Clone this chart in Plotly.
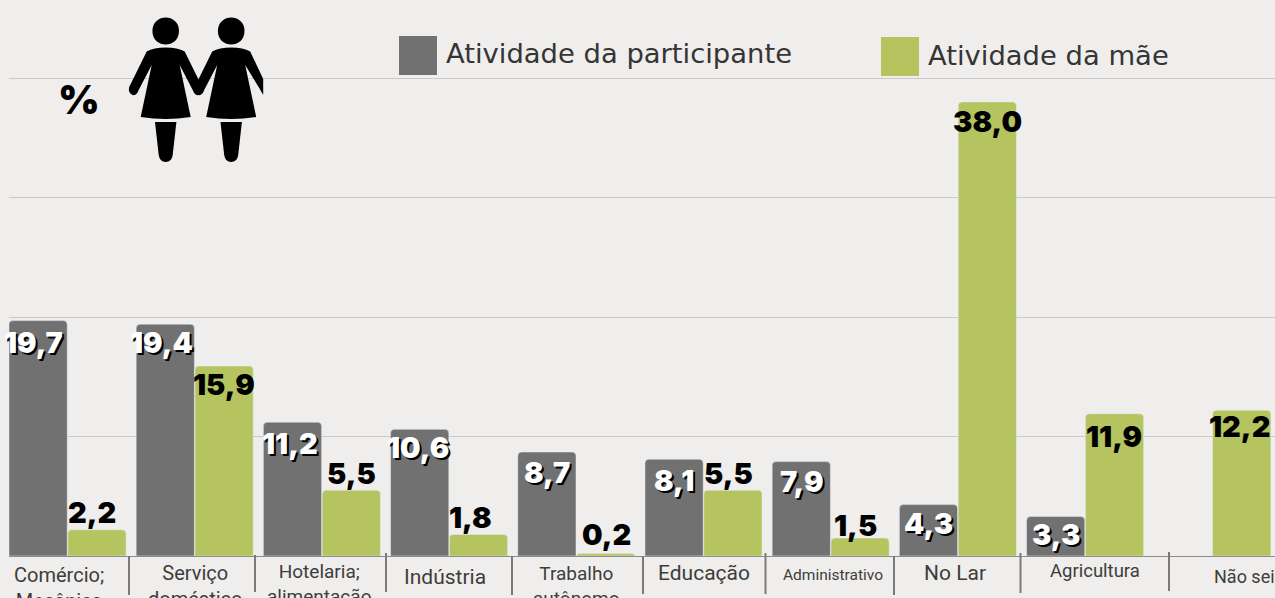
import plotly.graph_objects as go

categories = ["Comércio; Mecânica", "Serviço doméstico", "Hotelaria; alimentação", "Indústria",
              "Trabalho autônomo", "Educação", "Administrativo", "No Lar", "Agricultura", "Não sei"]
tick_labels = ["Comércio;<br>Mecânica", "Serviço<br>doméstico", "Hotelaria;<br>alimentação", "Indústria",
               "Trabalho<br>autônomo", "Educação", "Administrativo", "No Lar", "Agricultura", "Não sei"]
participante = [19.7, 19.4, 11.2, 10.6, 8.7, 8.1, 7.9, 4.3, 3.3, None]
mae = [2.2, 15.9, 5.5, 1.8, 0.2, 5.5, 1.5, 38.0, 11.9, 12.2]

tick_dx = [-8.5, 0, -3, -4, 0, 0, 2, -3, 10, 32]
tick_top = [561, 559, 558, 563, 560, 559, 564, 559, 558, 564]
tick_size = [20, 20, 19, 21, 19, 21, 15.5, 21, 18.5, 18]
label_dx_p = [-5, -4, -3, -2, 0, 0, 0, 0, 0, 0]
label_dx_m = [-5, 0, 0, -8, 1, -4, -4, 0, 0, -2]
label_dy_p = [-22, -18, -21, -18, -20, -21, -20, -19, -18, 0]
label_dy_m = [17, -19, 17, 17, 19, 17, 13, -20, -23, -16]
separators = [(129, 556, 595), (255, 555, 592), (386, 553, 592), (512, 556, 595), (643, 556, 594),
              (765.5, 553, 594), (894, 556, 595), (1020.5, 553, 593), (1169, 552, 591)]

W, H = 1275, 598
ML, MR, MT, MB = 9, 0, 76, 42
GREY, GREEN, BG = "#717171", "#b5c45f", "#efeeec"
TICKFONT = "Liberation Sans Narrow, Roboto, sans-serif"
LABELFONT = "Inter, DejaVu Sans, sans-serif"
BAR_OFFSET = 29.2


def px(x):
    return (x - ML) / (W - ML - MR)


def py(y):
    return 1 - (y - MT) / (H - MT - MB)


def fmt(v):
    return f"{v:.1f}".replace(".", ",")


fig = go.Figure()
fig.add_bar(x=categories, y=participante, name="Atividade da participante",
            marker=dict(color=GREY), showlegend=False)
fig.add_bar(x=categories, y=mae, name="Atividade da mãe",
            marker=dict(color=GREEN), showlegend=False)

shapes = []
for x, y0, y1 in separators:
    shapes.append(dict(type="line", xref="paper", yref="paper", x0=px(x), x1=px(x), y0=py(y0), y1=py(y1),
                       line=dict(color="#7a7a7a", width=2)))
for (x0, y0, x1, y1, col) in [(399, 36, 437, 75, GREY), (881, 37, 919, 76, GREEN)]:
    shapes.append(dict(type="rect", xref="paper", yref="paper", x0=px(x0), x1=px(x1), y0=py(y0), y1=py(y1),
                       fillcolor=col, line=dict(width=0)))


def P(cmds):
    out = []
    for c in cmds:
        if isinstance(c, str):
            out.append(c)
        else:
            out.append(f"{px(c[0]):.5f},{py(c[1]):.5f}")
    return " ".join(out)


def woman(cx, clip=False):
    right_arm = (["L", (cx + 32, 79), "L", (cx + 32, 95), "L", (cx + 28, 88)] if clip else
                 ["L", (cx + 36.5, 87), "Q", (cx + 38, 93), (cx + 33, 95), "Q", (cx + 29, 96), (cx + 27, 90)])
    body = ["M", (cx, 47.5), "Q", (cx + 12, 47.5), (cx + 19, 51.5)] + right_arm + [
        "L", (cx + 14, 65), "L", (cx + 25, 117), "Q", (cx, 121), (cx - 25, 117), "L", (cx - 14, 65),
        "L", (cx - 27, 90), "Q", (cx - 29, 96), (cx - 33, 95), "Q", (cx - 38, 93), (cx - 36.5, 87),
        "L", (cx - 19, 51.5), "Q", (cx - 12, 47.5), (cx, 47.5), "Z"]
    legs = ["M", (cx - 10.7, 122), "L", (cx + 10.7, 122), "L", (cx + 7, 155),
            "Q", (cx + 6, 162), (cx, 162), "Q", (cx - 6, 162), (cx - 7, 155), "Z"]
    head = ["M", (cx - 13.3, 31), "C", (cx - 13.3, 13), (cx + 13.3, 13), (cx + 13.3, 31),
            "C", (cx + 13.3, 49), (cx - 13.3, 49), (cx - 13.3, 31), "Z"]
    return [P(body), P(legs), P(head)]


for cx, clip in [(165.7, False), (231.2, True)]:
    for d in woman(cx, clip):
        shapes.append(dict(type="path", xref="paper", yref="paper", path=d, fillcolor="black", line=dict(width=0)))

ann = []
for i, t in enumerate(tick_labels):
    ann.append(dict(x=i, xref="x", y=py(tick_top[i]), yref="paper", yanchor="top", xanchor="center",
                    xshift=tick_dx[i], text=t, showarrow=False, align="center",
                    font=dict(family=TICKFONT, size=tick_size[i], color="#3d3d3d")))

for i, v in enumerate(participante):
    if v is not None:
        ann.append(dict(x=i, y=v, xref="x", yref="y", text=fmt(v), showarrow=False, xanchor="center",
                        yanchor="middle", xshift=-BAR_OFFSET + label_dx_p[i], yshift=label_dy_p[i],
                        font=dict(family=LABELFONT, size=29, color="white", weight=900,
                                  shadow="2px 2px 0.5px #000")))
for i, v in enumerate(mae):
    ann.append(dict(x=i, y=v, xref="x", yref="y", text=fmt(v), showarrow=False, xanchor="center",
                    yanchor="middle", xshift=BAR_OFFSET + label_dx_m[i], yshift=label_dy_m[i],
                    font=dict(family=LABELFONT, size=29, color="black", weight=900)))

ann.append(dict(x=px(444), xref="paper", y=py(54), yref="paper", xanchor="left", yanchor="middle",
                text="Atividade da participante", showarrow=False,
                font=dict(family="DejaVu Sans, sans-serif", size=27.4, color="#353535")))
ann.append(dict(x=px(926), xref="paper", y=py(55), yref="paper", xanchor="left", yanchor="middle",
                text="Atividade da mãe", showarrow=False,
                font=dict(family="DejaVu Sans, sans-serif", size=27.4, color="#353535")))
ann.append(dict(x=px(79), xref="paper", y=py(99), yref="paper", xanchor="center", yanchor="middle",
                text="%", showarrow=False, font=dict(family="Inter, sans-serif", size=40, color="black", weight=900)))

fig.update_layout(
    width=W, height=H, margin=dict(l=ML, r=MR, t=MT, b=MB, autoexpand=False),
    paper_bgcolor=BG, plot_bgcolor=BG, barmode="group", bargap=0.075, bargroupgap=0.01,
    barcornerradius=4, shapes=shapes, annotations=ann, showlegend=False,
    xaxis=dict(type="category", range=[-0.46, 9.493], showticklabels=False, ticks="", showgrid=False,
               zeroline=False, showline=False),
    yaxis=dict(range=[0, 40.167], tickvals=[0, 10, 20, 30, 40], showticklabels=False, ticks="",
               gridcolor="#c9c9c7", gridwidth=1, zeroline=True, zerolinecolor="#8c8c8c", zerolinewidth=1),
)
fig.write_html("out.html", config=dict(displayModeBar=False),
               post_script="document.body.style.margin='0';document.body.style.overflow='hidden';")
